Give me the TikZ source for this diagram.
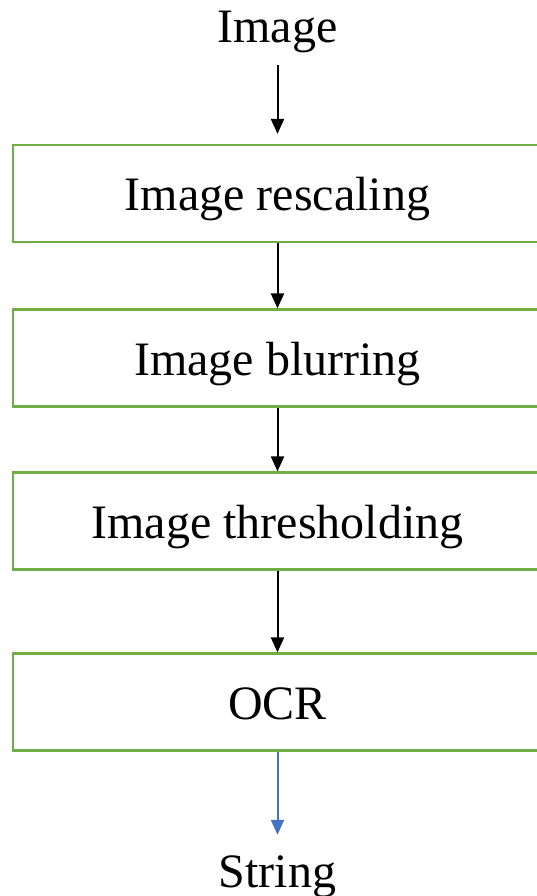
\documentclass[tikz,border=0pt]{standalone}
\usepackage{fontspec}
\setmainfont{Liberation Serif}
\usetikzlibrary{arrows.meta}
\definecolor{stepgreen}{RGB}{112,173,71}
\definecolor{outblue}{RGB}{68,114,196}
\tikzset{
  x=1pt, y=1pt,
  stepbox/.style={draw=stepgreen, line width=2.2pt, rectangle,
    minimum width=529pt, minimum height=97pt, inner sep=0pt,
    text height=35pt, text depth=0pt,
    font=\fontsize{48}{56}\selectfont},
  endlabel/.style={inner xsep=0pt, font=\fontsize{48}{56}\selectfont,
    text height=35pt, text depth=10pt},
  flow/.style={line width=2pt, -{Triangle[length=15pt,width=13pt]}},
}
\begin{document}
\begin{tikzpicture}
  \useasboundingbox (0,0) rectangle (537,-896);
  % input and output labels
  \node[endlabel, inner ysep=12pt, anchor=base] (img) at (277.5,-43) {Image};
  % processing steps
  \node[stepbox] (b1) at (277.5,-193.5) {Image rescaling};
  \node[stepbox] (b2) at (277.5,-358)   {Image blurring};
  \node[stepbox] (b3) at (277.5,-521)   {Image thresholding};
  \node[stepbox] (b4) at (277.5,-702)   {OCR};
  \node[endlabel, inner ysep=17pt, anchor=base] (str) at (277.5,-887) {String};
  % connectors
  \draw[flow, shorten >=10pt] (img) -- (b1);
  \draw[flow] (b1) -- (b2);
  \draw[flow] (b2) -- (b3);
  \draw[flow] (b3) -- (b4);
  \draw[flow, color=outblue, line width=2pt] (b4) -- (str);
\end{tikzpicture}
\end{document}
